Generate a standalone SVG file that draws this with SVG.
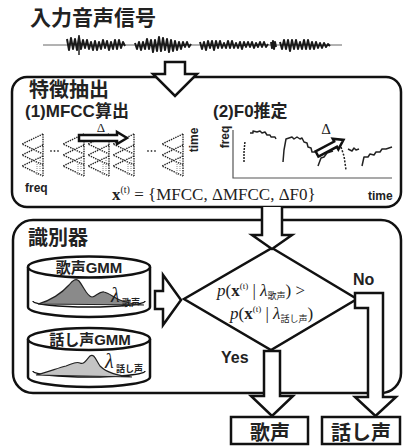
<svg xmlns="http://www.w3.org/2000/svg" xmlns:xlink="http://www.w3.org/1999/xlink" width="405" height="446" viewBox="0 0 405 446">
<style>
.box{fill:none;stroke:#111;stroke-width:2.5}
.node{fill:#fff;stroke:#111;stroke-width:2.5}
.harrow{fill:#fff;stroke:#111;stroke-width:2.5;stroke-linejoin:miter}
.jp{font-family:"Liberation Sans","Noto Sans CJK JP",sans-serif;font-weight:bold;fill:#222}
.ser{font-family:"Liberation Serif","DejaVu Serif",serif;fill:#222}
.dot{fill:none;stroke:#222;stroke-width:1.4;stroke-dasharray:1.4 1}
.wave{fill:none;stroke:#1a1a1a;stroke-width:2;stroke-linejoin:round}
.f0{fill:none;stroke:#222;stroke-width:1.5;stroke-linejoin:round}
</style>
<defs>
<g id="tri">
<path class="dot" d="M21,0 L0,10 L21,20 M21,11 L0,21 L21,31 M21,22 L0,32 L21,42 M21,0 V42"/>
<path d="M15,30 V41 M18,24 V38" stroke="#aaa" stroke-width="1.4" stroke-dasharray="1 1"/>
</g>
</defs>

<g id="input-title">
<text class="jp" x="30" y="25" font-size="21">入力音声信号</text>
</g>

<g id="input-waveform">
<line x1="43" y1="45" x2="342" y2="45" stroke="#666" stroke-width="1"/>
<polyline class="wave" points="67,39 69,50 71,38 73,49 75,39 77,50 79,37 81,49 83,40 85,48 87,40 89,49 91,42 93,50 95,41 97,50 99,42 101,49 103,40 105,48 107,41 109,50 111,42 113,49 115,40 117,49 119,40 121,48 123,42 125,46"/>
<line x1="79" y1="35" x2="79" y2="55" stroke="#222" stroke-width="1.5"/>
<polyline class="wave" points="135,43 137,49 139,42 141,50 143,42 145,49 147,39 149,49 151,40 153,52 155,40 157,51 159,37 161,51 163,38 165,50 167,39 169,52 171,40 173,51 175,41 177,50 179,42 181,49 183,42 185,47 187,42 189,47 191,44"/>
<polyline class="wave" points="200,42 202,49 204,42 206,50 208,41 210,48 212,41 214,50 216,41 218,48 220,41 222,48 224,43 226,48 228,41 230,48 232,41 234,48 236,43 238,48 240,42 242,49 244,42 246,47 248,42 250,47 252,42 254,48 256,43 258,47 260,42 262,47 264,42 266,47 268,44"/>
<polyline class="wave" points="271,42 272,48 273,41 274,49 275,42 276,47"/>
<polyline class="wave" points="280,42 282,49 284,40 286,49 288,40 290,51 292,40 294,49 296,40 298,49 300,42 302,49 304,40 306,49 308,40 310,49 312,42 314,49 316,42 318,48 320,43 322,48 324,43 326,47 328,44 330,46"/>
</g>

<g id="feature-extraction">
<rect class="box" x="12" y="77" width="389" height="130" rx="15"/>
<text class="jp" x="29" y="97" font-size="20">特徴抽出</text>
<text class="jp" x="25" y="117" font-size="17">(1)MFCC算出</text>
<text class="jp" x="213" y="117" font-size="17">(2)F0推定</text>
<use xlink:href="#tri" x="22" y="134"/>
<use xlink:href="#tri" x="63" y="134"/>
<use xlink:href="#tri" x="88" y="134"/>
<use xlink:href="#tri" x="113" y="134"/>
<use xlink:href="#tri" x="162" y="134"/>
<g fill="#444"><circle cx="51" cy="151" r="0.9"/><circle cx="54.5" cy="151" r="0.9"/><circle cx="58" cy="151" r="0.9"/><circle cx="148" cy="151" r="0.9"/><circle cx="151.5" cy="151" r="0.9"/><circle cx="155" cy="151" r="0.9"/></g>
<path class="harrow" stroke-width="2" d="M79,135 H117 V132 L127,138 L117,144 V141 H79 Z"/>
<text class="ser" x="101" y="132" font-size="13" text-anchor="middle">Δ</text>
<text class="jp" x="25" y="192" font-size="12">freq</text>
<text class="jp" font-size="12" text-anchor="middle" transform="translate(198,140) rotate(-90)">time</text>
<path d="M233,130 V178 H392" fill="none" stroke="#555" stroke-width="1.2"/>
<text class="jp" font-size="12" text-anchor="middle" transform="translate(229,137) rotate(-90)">freq</text>
<text class="jp" x="368" y="200" font-size="12">time</text>
<path class="f0" stroke-dasharray="2 1" d="M244,162 L244,152 L245,141"/>
<path class="f0" d="M250,133 L253,133 L253,131 L257,132 L260,131 L262,133 L265,132 L267,135 L270,135 L271,137 L275,137 L276,139"/>
<path class="f0" d="M283,162 L284,150 L286,139 L289,138 L292,137 L294,139 L297,137 L300,139 L302,138 L304,142 L307,143 L308,147 L311,148 L312,152 L316,152"/>
<path class="f0" d="M318,166 L321,158 L324,157 L327,153 L333,151"/>
<path class="f0" stroke-dasharray="2 1.5" d="M341,147 L344,156 L345,163 L346,170"/>
<path class="f0" d="M348,149 L352,151 L354,148 L356,150 L359,149"/>
<path class="f0" d="M362,166 L364,157 L368,157 L370,154 L374,155 L376,152 L380,152 L382,149 L386,149 L392,147"/>
<path class="harrow" stroke-width="2" transform="translate(317,154) rotate(-28)" d="M0,-3 H21 V-6 L30,0 L21,6 V3 H0 Z"/>
<text class="ser" x="326" y="134" font-size="15" text-anchor="middle">Δ</text>
<text class="ser" x="112" y="200" font-size="17"><tspan font-weight="bold">x</tspan><tspan dy="-7" font-size="10">(t)</tspan><tspan dy="7"> = {MFCC, ΔMFCC, ΔF0}</tspan></text>
</g>

<g id="classifier">
<rect class="box" x="13" y="220" width="388" height="173" rx="20"/>
<text class="jp" x="28" y="245" font-size="20">識別器</text>
</g>

<g id="gmm-singing">
<path class="node" d="M28,267 V307 A61,10 0 0 0 150,307 V267"/>
<ellipse class="node" cx="89" cy="267" rx="61" ry="10.5"/>
<path d="M33,301 A56,6 0 0 0 145,301" fill="none" stroke="#111" stroke-width="1.5"/>
<path d="M38,304 C50,301 62,293 69,285 C73,280 76,278 79,281 C84,287 87,297 92,297 C96,297 99,291 104,292 C110,293 116,300 126,302 C133,304 140,305 144,305 Z" fill="#8a8a8a" stroke="#222" stroke-width="1.2"/>
<text class="jp" x="89" y="273" font-size="15" text-anchor="middle">歌声GMM</text>
<text class="ser" x="111" y="302" font-size="20" font-style="italic">λ</text>
<text class="jp" x="122" y="306" font-size="9" font-weight="normal">歌声</text>
</g>

<g id="gmm-speech">
<path class="node" d="M28,339 V377 A61,10 0 0 0 150,377 V339"/>
<ellipse class="node" cx="89" cy="339" rx="61" ry="11"/>
<path d="M33,371 A56,6 0 0 0 145,371" fill="none" stroke="#111" stroke-width="1.5"/>
<path d="M36,375 C48,372 58,368 66,366 C72,364 76,361 80,363 C84,365 86,360 90,356 C94,353 96,360 100,366 C106,372 118,376 132,377 Z" fill="#c4c4c4" stroke="#222" stroke-width="1.2"/>
<text class="jp" x="90" y="345" font-size="15" text-anchor="middle">話し声GMM</text>
<text class="ser" x="105" y="368" font-size="20" font-style="italic">λ</text>
<text class="jp" x="116" y="372" font-size="9" font-weight="normal">話し声</text>
</g>

<g id="decision">
<polygon class="node" stroke-width="3" points="272,248 357,299 271,350 184,299"/>
<text class="ser" x="217" y="296" font-size="17"><tspan font-style="italic">p</tspan>(<tspan font-weight="bold">x</tspan><tspan dy="-7" font-size="9">(t)</tspan><tspan dy="7"> | </tspan><tspan font-style="italic">λ</tspan><tspan dy="3" font-size="9" font-family="Noto Sans CJK JP">歌声</tspan><tspan dy="-3">) &gt;</tspan></text>
<text class="ser" x="230" y="319" font-size="17"><tspan font-style="italic">p</tspan>(<tspan font-weight="bold">x</tspan><tspan dy="-7" font-size="9">(t)</tspan><tspan dy="7"> | </tspan><tspan font-style="italic">λ</tspan><tspan dy="3" font-size="9" font-family="Noto Sans CJK JP">話し声</tspan><tspan dy="-3">)</tspan></text>
<text class="jp" x="353" y="285" font-size="16" font-weight="normal">No</text>
<text class="jp" x="221" y="363" font-size="16" font-weight="normal">Yes</text>
</g>

<g id="out-singing">
<rect class="node" x="231" y="417" width="77" height="27"/>
<text class="jp" x="270" y="440" font-size="20" text-anchor="middle">歌声</text>
</g>

<g id="out-speech">
<rect class="node" x="322" y="417" width="78" height="27"/>
<text class="jp" x="361" y="440" font-size="20" text-anchor="middle">話し声</text>
</g>

<g id="connectors">
<path class="harrow" d="M165,62 H185 V74 H197 L175,96 L153,74 H165 Z"/>
<path class="harrow" d="M262,207 V235 H252 L272,249 L292,235 H282 V207"/>
<path class="harrow" d="M155,291 H163 V275 L181,300 L163,325 V309 H155 Z"/>
<path class="harrow" d="M264,351 H280 V396 H293 L272,416 L251,396 H264 Z"/>
<path class="harrow" d="M355,293 H383 V397 H396 L375.5,416 L355,397 H368 V308 H355 Z"/>
</g>
</svg>
